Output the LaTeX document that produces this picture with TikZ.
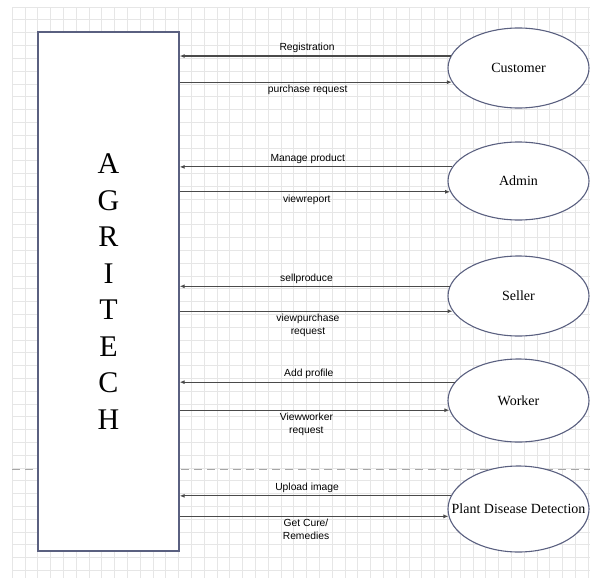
\documentclass[tikz,border=0pt]{standalone}
\usepackage{fontspec}
\setmainfont{Liberation Serif}
\setsansfont{Liberation Sans}
\usepackage{xcolor}
\definecolor{frameColor}{HTML}{5A6080}
\definecolor{flowColor}{HTML}{4A4A4A}
\definecolor{gridColor}{HTML}{E6E6E6}
\usetikzlibrary{arrows.meta,shapes.geometric}
\tikzset{
  sysbox/.style={
    draw=frameColor,
    fill=white,
    line width=1.3pt,
    minimum width=141pt,
    minimum height=519pt,
    inner sep=0pt,
    align=center,
    font=\fontsize{30}{36.5}\selectfont
  },
  entitytext/.style={
    font=\fontsize{14}{15}\selectfont,
    inner sep=0pt
  },
  entity/.style={
    ellipse,
    draw=frameColor,
    fill=white,
    line width=1.1pt,
    minimum width=141pt,
    inner sep=0pt,
    label={[entitytext]center:#1}
  },
  flowline/.style={
    draw=flowColor,
    -{Latex[length=5pt,width=4pt]},
    line width=1.2pt
  },
  flowlabel/.style={
    font=\sffamily\fontsize{10.3}{13}\selectfont,
    align=center,
    inner sep=2.5pt
  },
  gridline/.style={draw=gridColor, line width=0.6pt}
}

\begin{document}
\begin{tikzpicture}[x=1pt,y=-1pt]
  \useasboundingbox (0,0) rectangle (601,578);
  % background grid
  \foreach \i in {0,...,45}{\draw[gridline] (12+\i*12.8,7) -- (12+\i*12.8,578);}
  \foreach \j in {0,...,44}{\draw[gridline] (12,7+\j*12.8) -- (590,7+\j*12.8);}
  \draw[gray!70, dashed, dash pattern=on 8pt off 5pt, line width=0.7pt] (12,469) -- (590,469);

  \node[sysbox] (sys) at (108.5,291.5) {A\\G\\R\\I\\T\\E\\C\\H};
  \node[entity=Customer, minimum height=80pt] (cust) at (518.5,68) {};
  \node[entity=Admin, minimum height=78pt] (admin) at (518.5,181) {};
  \node[entity=Seller, minimum height=80pt] (seller) at (518.5,296) {};
  \node[entity=Worker, minimum height=83pt] (worker) at (518.5,400.5) {};
  \node[entity=Plant Disease Detection, minimum height=86pt] (plant) at (518.5,509) {};

  \draw[flowline] (cust.170.8) -- node[flowlabel, above, pos=.53] {Registration} (sys.east |- cust.170.8);
  \draw[flowline] (sys.east |- cust.192) -- node[flowlabel, below, pos=.47] {purchase request} (cust.192);
  \draw[flowline] (admin.168) -- node[flowlabel, above, pos=.53] {Manage product} (sys.east |- admin.168);
  \draw[flowline] (sys.east |- admin.189.2) -- node[flowlabel, below, pos=.47] {viewreport} (admin.189.2);
  \draw[flowline] (seller.172.5) -- node[flowlabel, above, pos=.53] {sellproduce} (sys.east |- seller.172.5);
  \draw[flowline] (sys.east |- seller.193.9) -- node[flowlabel, below, pos=.47] {viewpurchase\\request} (seller.193.9);
  \draw[flowline] (worker.164.7) -- node[flowlabel, above, pos=.53] {Add profile} (sys.east |- worker.164.7);
  \draw[flowline] (sys.east |- worker.188.8) -- node[flowlabel, below, pos=.47] {Viewworker\\request} (worker.188.8);
  \draw[flowline] (plant.169) -- node[flowlabel, above, pos=.53] {Upload image} (sys.east |- plant.169);
  \draw[flowline] (sys.east |- plant.186.6) -- node[flowlabel, below, pos=.47] {Get Cure/\\Remedies} (plant.186.6);
\end{tikzpicture}
\end{document}
